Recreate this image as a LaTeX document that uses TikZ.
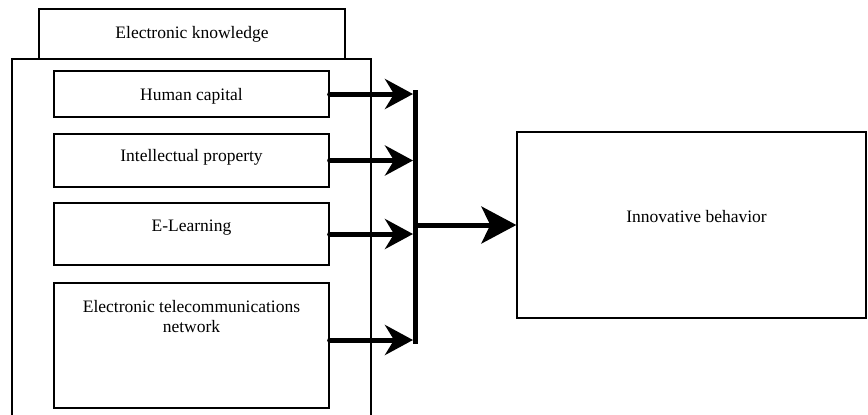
\documentclass[tikz,border=0pt]{standalone}
\usepackage{fontspec}
\setmainfont{Liberation Serif}
\usetikzlibrary{positioning}
\usetikzlibrary{arrows.meta}

\begin{document}
\begin{tikzpicture}[x=1pt, y=-1pt,
	box/.style={draw, line width=1.3pt, minimum width=275pt, inner sep=0pt},
	txt/.style={font=\fontsize{17.5}{20}\selectfont, align=center},
	toptxt/.style={txt, anchor=north, yshift=-14pt},
	feed/.style={line width=5pt, line cap=round, -{Stealth[length=28pt, width=30pt, inset=9pt]}},
	main/.style={line width=5pt, -{Stealth[length=35pt, width=37pt, inset=9pt]}}]
	\useasboundingbox (0,0) rectangle (868,415);
	% factor boxes
	\node[box, minimum width=306pt, minimum height=50pt, txt] (know) at (192,34) {Electronic knowledge};
	\draw[line width=1.3pt] (12,415) -- (12,59) -- (371,59) -- (371,415);
	\node[box, minimum height=46pt, label={[toptxt]north:Human capital}] (hc) at (191.5,94) {};
	\node[box, minimum height=53pt, label={[toptxt, yshift=2pt]north:Intellectual property}] (ip) at (191.5,160.5) {};
	\node[box, minimum height=62pt, label={[toptxt]north:E-Learning}] (el) at (191.5,234) {};
	\node[box, minimum height=125pt, label={[toptxt]north:Electronic telecommunications\\network}] (etn) at (191.5,345.5) {};
	\node[box, minimum width=349pt, minimum height=186pt, label={[txt, anchor=center, xshift=5pt, yshift=8pt]center:Innovative behavior}] (ib) at (691.5,225) {};
	% collecting bar
	\coordinate (bartop) at (415.5,90);
	\coordinate (barbot) at (415.5,344);
	\coordinate (barin) at (413,0);
	\coordinate (etnout) at ([yshift=5.5pt]etn.east);
	\draw[feed] (hc.east) -- (hc.east -| barin);
	\draw[feed] (ip.east) -- (ip.east -| barin);
	\draw[feed] (el.east) -- (el.east -| barin);
	\draw[feed] (etnout) -- (etnout -| barin);
	\draw[line width=5pt] (bartop) -- (barbot);
	\draw[main] (ib.west -| bartop) -- (ib.west);
\end{tikzpicture}
\end{document}
